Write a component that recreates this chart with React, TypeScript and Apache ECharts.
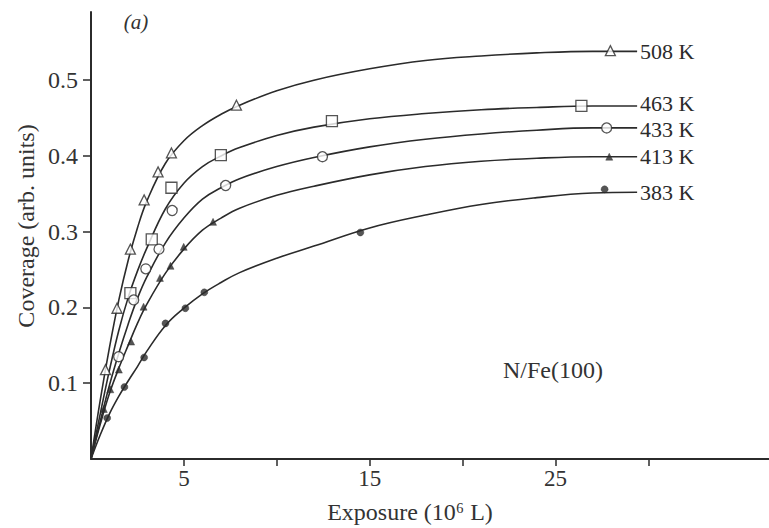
import React, { useEffect, useRef } from "react";
import * as echarts from "echarts";

// Sample positions (exposure, 10^6 L) at which the fitted curves were read
const curveX = [0, 0.5, 1, 1.5, 2, 2.5, 3, 4, 5, 6, 7, 8, 10, 12, 15, 18, 21, 24, 27, 29.4];

// Fitted curves (coverage, arb. units)
const curve508 = [0, 0.078, 0.148, 0.21, 0.262, 0.305, 0.34, 0.39, 0.42, 0.44, 0.455, 0.467, 0.486, 0.5, 0.515, 0.526, 0.532, 0.536, 0.538, 0.538];
const curve463 = [0, 0.06, 0.118, 0.17, 0.213, 0.248, 0.278, 0.33, 0.364, 0.386, 0.4, 0.411, 0.427, 0.438, 0.449, 0.456, 0.461, 0.464, 0.466, 0.466];
const curve433 = [0, 0.05, 0.098, 0.14, 0.178, 0.212, 0.24, 0.285, 0.318, 0.343, 0.358, 0.37, 0.386, 0.398, 0.412, 0.422, 0.429, 0.434, 0.437, 0.437];
const curve413 = [0, 0.046, 0.087, 0.12, 0.15, 0.179, 0.204, 0.245, 0.277, 0.302, 0.318, 0.331, 0.348, 0.36, 0.375, 0.386, 0.393, 0.397, 0.399, 0.399];
const curve383 = [0, 0.032, 0.06, 0.083, 0.103, 0.122, 0.142, 0.176, 0.199, 0.218, 0.233, 0.246, 0.265, 0.281, 0.305, 0.322, 0.336, 0.345, 0.351, 0.352];

// Measured points [exposure, coverage]
const pts508 = [[0.78, 0.118], [1.4, 0.199], [2.12, 0.277], [2.86, 0.342], [3.61, 0.379], [4.33, 0.404], [7.83, 0.467], [27.96, 0.539]];
const pts463 = [[2.12, 0.219], [3.27, 0.29], [4.33, 0.358], [6.99, 0.401], [12.97, 0.446], [26.4, 0.466]];
const pts433 = [[1.49, 0.135], [2.3, 0.21], [2.95, 0.251], [3.66, 0.277], [4.37, 0.328], [7.25, 0.361], [12.46, 0.399], [27.76, 0.437]];
const pts413 = [[0.69, 0.066], [1.04, 0.092], [1.5, 0.118], [2.16, 0.155], [2.83, 0.201], [3.71, 0.239], [4.28, 0.255], [4.99, 0.28], [6.57, 0.313], [27.9, 0.399]];
const pts383 = [[0.87, 0.054], [1.8, 0.095], [2.86, 0.134], [4.01, 0.179], [5.08, 0.199], [6.1, 0.22], [14.5, 0.299], [27.65, 0.356]];

const seriesLabels = ["508 K", "463 K", "433 K", "413 K", "383 K"];
const xTickValues = [5, 10, 15, 20, 25, 30];
const xLabelValues = [5, 15, 25];
const yTickValues = [0.1, 0.2, 0.3, 0.4, 0.5];

export default function App() {
  const ref = useRef<HTMLDivElement>(null);

  useEffect(() => {
    const chart = echarts.init(ref.current!, null, { renderer: "svg" });
    const font = "'Liberation Serif', 'Times New Roman', serif";
    const ink = "#2b2b2b";

    const curves = [curve508, curve463, curve433, curve413, curve383];
    const labelOffsets = [[0, 0], [0, -2], [0, 2], [0, 0], [0, 0]];
    const curveSeries = curves.map((c, i) => ({
      type: "line",
      name: seriesLabels[i],
      data: curveX.map((x, j) => [x, c[j]]),
      smooth: 0.4,
      symbol: "none",
      showSymbol: false,
      silent: true,
      z: 2,
      lineStyle: { color: ink, width: 1.6 },
      endLabel: {
        show: true,
        formatter: seriesLabels[i],
        color: ink,
        fontFamily: font,
        fontSize: 22,
        lineHeight: 20,
        distance: 3,
        offset: labelOffsets[i],
      },
    }));

    const hollow = { color: "#ffffff", borderColor: ink, borderWidth: 1.3 };
    const solid = { color: ink, borderColor: ink, borderWidth: 0.5 };
    const markerSeries = [
      { data: pts508, symbol: "triangle", symbolSize: 10, itemStyle: hollow },
      { data: pts463, symbol: "rect", symbolSize: 11, itemStyle: hollow },
      { data: pts433, symbol: "circle", symbolSize: 10, itemStyle: hollow },
      { data: pts413, symbol: "triangle", symbolSize: 7, itemStyle: solid },
      { data: pts383, symbol: "circle", symbolSize: 7, itemStyle: solid },
    ].map((m) => ({ type: "scatter", z: 5, silent: true, ...m }));

    chart.setOption({
      animation: false,
      backgroundColor: "#ffffff",
      grid: { left: 91, right: 0, top: 12, bottom: 69, outerBoundsMode: "none" },
      xAxis: {
        type: "value",
        min: 0,
        max: 36.5,
        splitLine: { show: false },
        axisLine: { onZero: false, lineStyle: { color: ink, width: 2 } },
        axisTick: { show: true, length: 7, customValues: xTickValues, lineStyle: { color: ink, width: 1.5 } },
        axisLabel: {
          customValues: xLabelValues,
          color: "#333",
          fontFamily: font,
          fontSize: 23,
          margin: 8,
        },
      },
      yAxis: {
        type: "value",
        min: 0,
        max: 0.59,
        splitLine: { show: false },
        axisLine: { onZero: false, lineStyle: { color: ink, width: 2 } },
        axisTick: { show: true, length: 8, customValues: yTickValues, lineStyle: { color: ink, width: 1.5 } },
        axisLabel: {
          customValues: yTickValues,
          formatter: (v: number) => v.toFixed(1),
          color: "#333",
          fontFamily: font,
          fontSize: 24,
          margin: 13,
        },
      },
      graphic: [
        {
          type: "text",
          x: 410,
          y: 512,
          style: { text: "Exposure (10⁶ L)", fill: "#333", font: `24px ${font}`, textAlign: "center", textVerticalAlign: "middle" },
        },
        {
          type: "text",
          x: 26,
          y: 226,
          rotation: Math.PI / 2,
          style: { text: "Coverage (arb. units)", fill: "#333", font: `24px ${font}`, textAlign: "center", textVerticalAlign: "middle" },
        },
        {
          type: "text",
          x: 136,
          y: 22,
          style: { text: "(a)", fill: "#333", font: `italic 21px ${font}`, textAlign: "center", textVerticalAlign: "middle" },
        },
        {
          type: "text",
          x: 503,
          y: 370,
          style: { text: "N/Fe(100)", fill: "#333", font: `24px ${font}`, textAlign: "left", textVerticalAlign: "middle" },
        },
      ],
      series: [...curveSeries, ...markerSeries],
    });

    return () => chart.dispose();
  }, []);

  return (
    <div
      ref={ref}
      style={{ position: "fixed", left: 0, top: 0, width: 769, height: 528, background: "#fff" }}
    />
  );
}
